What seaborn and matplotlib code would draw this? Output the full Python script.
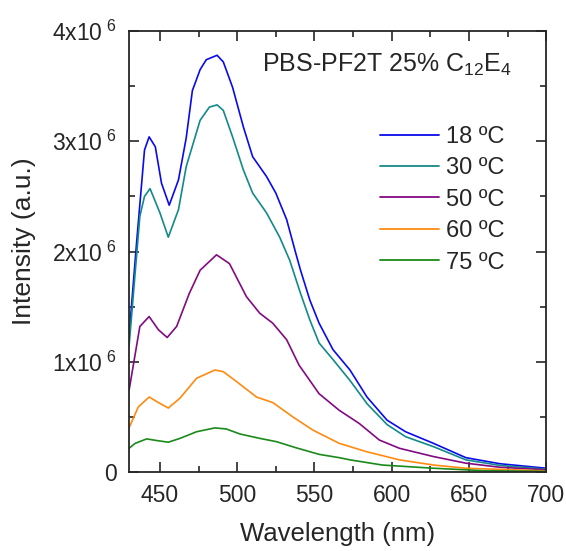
import matplotlib
matplotlib.use("Agg")
import matplotlib.pyplot as plt
import seaborn as sns
import pandas as pd
import numpy as np
from matplotlib.ticker import MultipleLocator, FixedLocator, FixedFormatter

# ---- data (wavelength nm, intensity in units of 1e6) ----
wl_18 = [430, 435, 440, 443, 447, 451, 456, 462, 467, 471, 476, 480, 487, 491, 497, 504, 510, 519, 525,
         532, 538, 541, 547, 553, 562, 573, 584, 597, 609, 627, 648, 670, 700]
i_18 = [1.23, 2.10, 2.92, 3.04, 2.95, 2.62, 2.42, 2.65, 3.03, 3.46, 3.65, 3.74, 3.78, 3.72, 3.49, 3.13, 2.86,
        2.68, 2.53, 2.29, 1.98, 1.83, 1.56, 1.35, 1.11, 0.925, 0.68, 0.47, 0.365, 0.26, 0.13, 0.075, 0.034]

wl_30 = [430, 437, 440, 443.6, 450, 455.4, 462, 467, 476, 482, 487, 491, 497, 504, 510, 519, 527.5, 534,
         541, 547, 553, 562, 573, 584, 597, 609, 627, 648, 670, 700]
i_30 = [1.14, 2.32, 2.50, 2.57, 2.35, 2.13, 2.38, 2.77, 3.19, 3.31, 3.33, 3.28, 3.04, 2.74, 2.53, 2.35, 2.13,
        1.92, 1.62, 1.38, 1.17, 1.02, 0.83, 0.62, 0.43, 0.32, 0.23, 0.11, 0.06, 0.025]

wl_50 = [430, 437, 443, 449, 454.7, 460.8, 469, 476, 486.6, 495, 506, 514.6, 523, 532, 540, 553, 566, 579,
         592, 605, 627, 648, 670, 700]
i_50 = [0.74, 1.32, 1.41, 1.29, 1.22, 1.32, 1.62, 1.83, 1.97, 1.89, 1.59, 1.44, 1.35, 1.20, 0.97, 0.71, 0.56,
        0.44, 0.29, 0.215, 0.14, 0.08, 0.043, 0.02]

wl_60 = [430, 436, 443, 449, 455.4, 463, 473.7, 485.6, 491, 499.6, 512.5, 523, 536, 549, 566, 583.5, 605,
         627, 648, 700]
i_60 = [0.40, 0.59, 0.68, 0.63, 0.58, 0.67, 0.85, 0.925, 0.91, 0.82, 0.68, 0.63, 0.50, 0.38, 0.26, 0.185,
        0.11, 0.063, 0.034, 0.01]

wl_75 = [430, 434, 441.4, 448, 455.4, 463, 473.7, 485.6, 493, 501.7, 514.6, 525.4, 538, 553, 566, 573, 594,
         627, 659, 700]
i_75 = [0.215, 0.26, 0.30, 0.285, 0.27, 0.305, 0.365, 0.40, 0.39, 0.345, 0.305, 0.275, 0.22, 0.16, 0.13,
        0.11, 0.063, 0.034, 0.012, 0.005]

labels = ["18 \u00baC", "30 \u00baC", "50 \u00baC", "60 \u00baC", "75 \u00baC"]
colors = ["#0a0aee", "#128a8a", "#820a82", "#ff8a10", "#1a8a1a"]

x_ticks = [450, 500, 550, 600, 650, 700]
y_ticks = [0, 1e6, 2e6, 3e6, 4e6]
y_tick_labels = ["0", r"1x10$^{\ 6}$", r"2x10$^{\ 6}$", r"3x10$^{\ 6}$", r"4x10$^{\ 6}$"]

frames = []
for wl, it, lab in zip([wl_18, wl_30, wl_50, wl_60, wl_75], [i_18, i_30, i_50, i_60, i_75], labels):
    frames.append(pd.DataFrame({"wl": wl, "I": np.array(it) * 1e6, "T": lab}))
df = pd.concat(frames, ignore_index=True)

sns.set_style("ticks")
plt.rcParams["font.family"] = ["Liberation Sans", "DejaVu Sans"]
plt.rcParams["mathtext.fontset"] = "custom"
plt.rcParams["mathtext.rm"] = "Liberation Sans"
plt.rcParams["mathtext.it"] = "Liberation Sans"
plt.rcParams["mathtext.default"] = "regular"

fig = plt.figure(figsize=(5.66, 5.51), dpi=100)
ax = fig.add_axes([0.228, 0.1434, 0.737, 0.8003])

sns.lineplot(data=df, x="wl", y="I", hue="T", palette=colors, estimator=None, sort=False,
             linewidth=1.2, ax=ax)

ax.set_xlim(430, 700)
ax.set_ylim(0, 4e6)
ax.xaxis.set_major_locator(FixedLocator(x_ticks))
ax.xaxis.set_minor_locator(MultipleLocator(25))
ax.yaxis.set_major_locator(FixedLocator(y_ticks))
ax.yaxis.set_major_formatter(FixedFormatter(y_tick_labels))
ax.yaxis.set_minor_locator(MultipleLocator(0.5e6))
ax.tick_params(which="both", direction="in", top=True, right=True, labelsize=16.5, width=1.2)
ax.tick_params(which="major", length=7, pad=9)
ax.tick_params(which="minor", length=4)
for s in ax.spines.values():
    s.set_linewidth(1.3)

ax.set_xlabel("Wavelength (nm)", fontsize=18.5)
ax.set_ylabel("Intensity (a.u.)", fontsize=19)
ax.xaxis.set_label_coords(0.5, -0.113)
ax.yaxis.set_label_coords(-0.223, 0.524)

ax.text(0.918, 0.907, r"PBS-PF2T 25% C$_{12}$E$_{4}$", transform=ax.transAxes, ha="right",
        va="baseline", fontsize=18)

leg = ax.legend(loc="upper left", bbox_to_anchor=(0.602, 0.785), frameon=False, fontsize=17,
                handlelength=2.5, handletextpad=0.3, labelspacing=0.4, borderaxespad=0, borderpad=0)
for h in leg.get_lines():
    h.set_linewidth(1.3)

fig.savefig("out.png", dpi=100)
